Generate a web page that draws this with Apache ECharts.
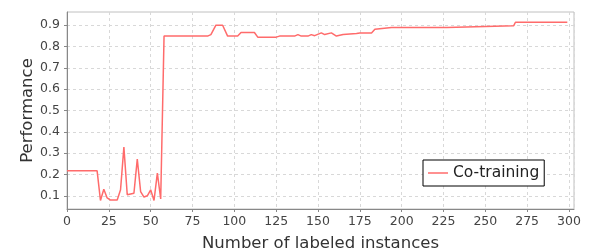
<!DOCTYPE html>
<html>
<head>
<meta charset="utf-8">
<script src="https://cdn.jsdelivr.net/npm/echarts@6/dist/echarts.min.js"></script>
<style>
    html, body { margin: 0; padding: 0; background: #fff; }
    #chart { width: 591px; height: 250px; }
</style>
</head>
<body>
<div id="chart"></div>
<script>
// number of labeled instances
const instances = [0, 18, 20, 22, 24, 26, 30, 32, 34, 36, 40, 42, 44, 46, 48, 50, 52, 54, 56, 58,
    84, 86, 87, 89, 93, 96, 102, 104, 112, 114, 125, 127, 136, 138, 140, 144, 146, 148, 152, 154,
    158, 161, 165, 173, 175, 182, 184, 194, 227, 228, 267, 268, 299];
// co-training performance
const performance = [0.217, 0.217, 0.078, 0.131, 0.09, 0.08, 0.08, 0.128, 0.328, 0.105, 0.112, 0.272, 0.12, 0.094, 0.1, 0.128, 0.078, 0.206, 0.085, 0.849,
    0.849, 0.856, 0.849, 0.9, 0.9, 0.849, 0.849, 0.866, 0.866, 0.844, 0.844, 0.849, 0.849, 0.856, 0.849, 0.849, 0.856, 0.851, 0.864, 0.856,
    0.864, 0.849, 0.856, 0.861, 0.864, 0.864, 0.881, 0.889, 0.889, 0.898, 0.898, 0.914, 0.914];

const yTicks = [0.1, 0.2, 0.3, 0.4, 0.5, 0.6, 0.7, 0.8, 0.9];

const chart = echarts.init(document.getElementById('chart'));

const font = 'DejaVu Sans';

const option = {
    animation: false,
    backgroundColor: '#fff',
    grid: {
        left: 67,
        top: 12,
        width: 507,
        height: 197,
        outerBoundsMode: 'none',
        containLabel: false,
        show: true,
        borderColor: '#c0c0c0',
        borderWidth: 1
    },
    legend: {
        left: 423,
        top: 160,
        orient: 'horizontal',
        backgroundColor: '#fff',
        borderColor: '#000',
        borderWidth: 1,
        borderRadius: 0,
        padding: [5, 5, 5, 5],
        itemWidth: 20,
        itemHeight: 1.5,
        itemGap: 5,
        icon: 'rect',
        textStyle: { fontFamily: font, fontSize: 15.5, color: '#222' },
        data: ['Co-training']
    },
    xAxis: {
        type: 'value',
        min: 0,
        max: 303,
        interval: 25,
        name: 'Number of labeled instances',
        nameLocation: 'middle',
        nameGap: 26,
        nameMoveOverlap: false,
        nameTextStyle: { fontFamily: font, fontSize: 16.5, color: '#333' },
        axisLine: { show: true, lineStyle: { color: '#888', width: 1 } },
        axisTick: { show: true, inside: false, length: 3, lineStyle: { color: '#888' } },
        axisLabel: {
            fontFamily: font, fontSize: 12.5, color: '#444', margin: 6,
            showMaxLabel: false,
            formatter: v => (v % 25 === 0 ? String(v) : '')
        },
        splitLine: { show: true, lineStyle: { color: '#d8d8d8', type: [3, 3], width: 1 } }
    },
    yAxis: {
        type: 'value',
        min: 0.038,
        max: 0.962,
        interval: 0.1,
        name: 'Performance',
        nameLocation: 'middle',
        nameGap: 31,
        nameMoveOverlap: false,
        nameTextStyle: { fontFamily: font, fontSize: 16.5, color: '#333' },
        axisLine: { show: true, lineStyle: { color: '#888', width: 1 } },
        axisTick: { show: true, inside: false, length: 3, lineStyle: { color: '#888' }, customValues: yTicks },
        axisLabel: {
            fontFamily: font, fontSize: 12.5, color: '#444', margin: 7,
            customValues: yTicks,
            formatter: v => v.toFixed(1)
        },
        splitLine: { show: true, lineStyle: { color: '#d8d8d8', type: [3, 3], width: 1 } }
    },
    series: [
        {
            name: 'Co-training',
            type: 'line',
            symbol: 'none',
            color: '#ff6b6b',
            lineStyle: { width: 1.5, color: '#ff6b6b' },
            data: instances.map((x, i) => [x, performance[i]])
        }
    ]
};

chart.setOption(option);
</script>
</body>
</html>
